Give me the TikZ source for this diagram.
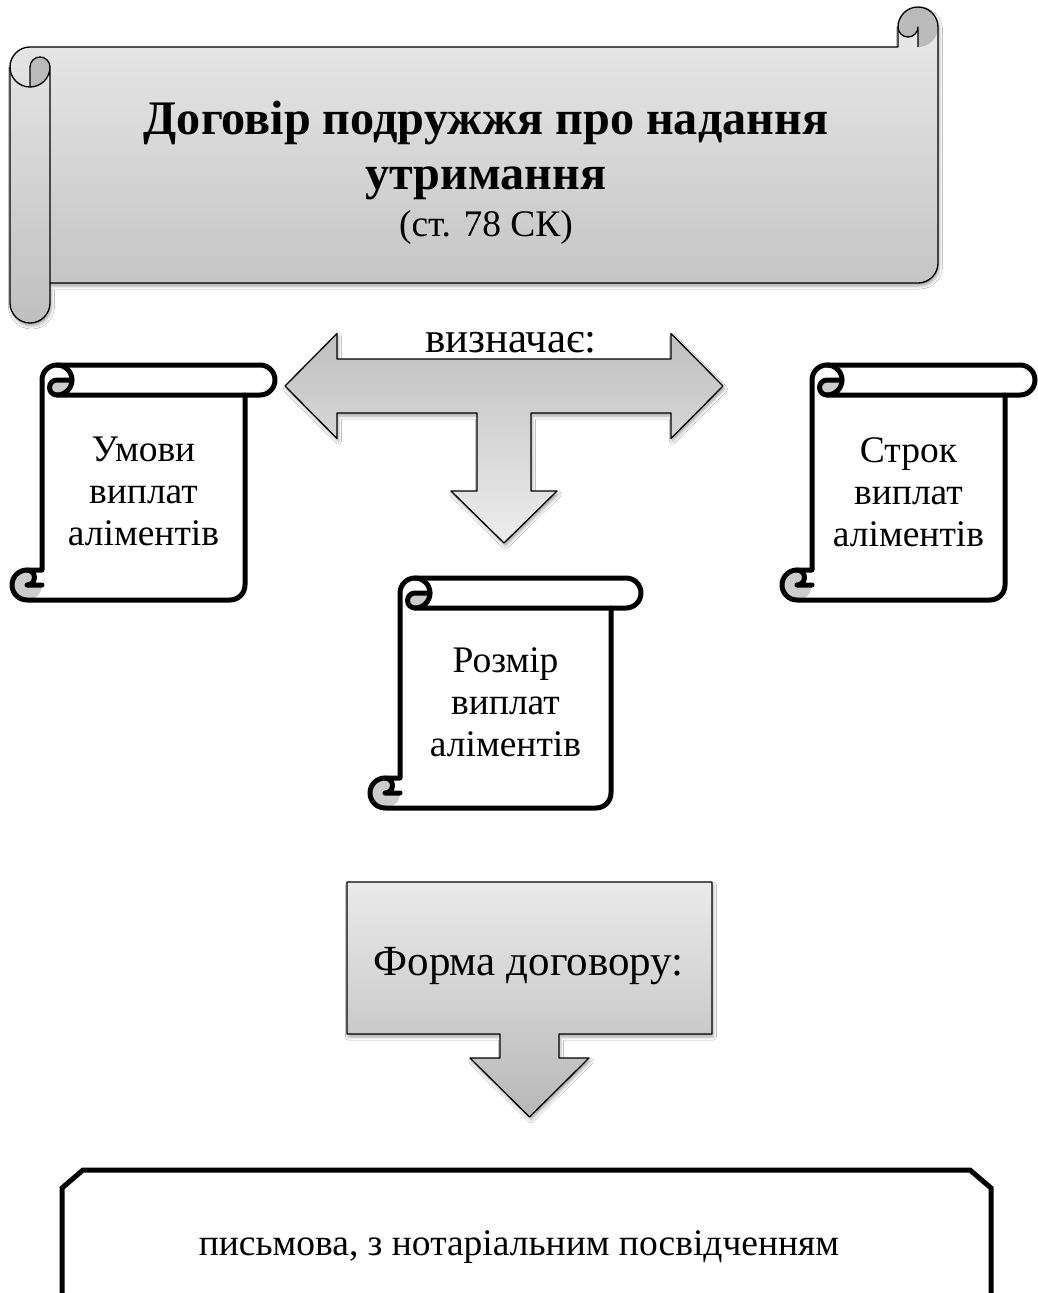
\documentclass[tikz,border=0pt]{standalone}
\usepackage{fontspec}
\setmainfont{Liberation Serif}
\usetikzlibrary{shadows.blur}
\tikzset{
  thinline/.style={line width=1.3pt, line join=round},
  thickline/.style={line width=5pt, line join=round, line cap=round},
  softshadow/.style={blur shadow={shadow xshift=1.5pt, shadow yshift=-3pt, shadow blur radius=3pt, shadow opacity=35}},
  curl/.style={fill=black!27},
  scrollcurl/.style={fill=black!20},
  bodytext/.style={inner sep=0pt, align=center, font=\fontsize{37.5}{42}\selectfont},
  bigtext/.style={inner sep=0pt, anchor=base, font=\fontsize{43}{48}\selectfont},
}
\newcommand{\vscroll}[4]{%
  \begin{scope}[shift={(#1,#2)}]
    \pgfmathsetmacro{\Wa}{#3-15}\pgfmathsetmacro{\Wb}{#3-30}\pgfmathsetmacro{\Wc}{#3-45}%
    \pgfmathsetmacro{\Ha}{#4-15}\pgfmathsetmacro{\Hb}{#4-30}%
    \def\outl{(45,0) arc[start angle=-90,end angle=-180,radius=15] -- (30,\Hb) -- (15,\Hb) arc[start angle=-90,end angle=-270,radius=15] -- (\Wc,#4) arc[start angle=90,end angle=0,radius=15] -- (\Wb,30) -- (\Wa,30) arc[start angle=90,end angle=-90,radius=15] -- cycle}%
    \fill[white] \outl;
    \fill[scrollcurl] (45,15) arc[start angle=-90,end angle=-270,radius=7.5] arc[start angle=90,end angle=0,radius=15] -- cycle;
    \fill[scrollcurl] (30,\Ha) arc[start angle=0,end angle=270,radius=15] arc[start angle=-90,end angle=90,radius=7.5] -- cycle;
    \draw[thickline] \outl;
    \draw[thickline] (45,0) arc[start angle=-90,end angle=90,radius=15] -- (\Wb,30);
    \draw[thickline] (60,15) -- (45,15) arc[start angle=-90,end angle=-270,radius=7.5];
    \draw[thickline] (30,\Ha) -- (15,\Ha) arc[start angle=90,end angle=-90,radius=7.5];
  \end{scope}}
\begin{document}
\begin{tikzpicture}[x=1pt,y=-1pt]
\useasboundingbox (0,0) rectangle (1038,1293);
\fill[white] (0,0) rectangle (1038,1293);

% ---- top horizontal scroll ----
\def\banner{(10,67) arc[start angle=180,end angle=270,radius=20] -- (898,47) -- (898,27) arc[start angle=180,end angle=360,radius=20] -- (938,263) arc[start angle=0,end angle=90,radius=20] -- (50,283) -- (50,303) arc[start angle=0,end angle=180,radius=20] -- cycle}
\path[softshadow, top color=black!8, bottom color=black!25] \banner;
\fill[curl] (30,67) arc[start angle=180,end angle=360,radius=10] arc[start angle=0,end angle=90,radius=20] -- cycle;
\fill[curl] (918,47) arc[start angle=90,end angle=-180,radius=20] arc[start angle=180,end angle=0,radius=10] -- cycle;
\draw[thinline] \banner;
\draw[thinline] (10,67) arc[start angle=180,end angle=0,radius=20] -- (50,283);
\draw[thinline] (30,87) -- (30,67) arc[start angle=180,end angle=360,radius=10];
\draw[thinline] (918,47) -- (918,27) arc[start angle=0,end angle=180,radius=10];
\node[anchor=north, align=center, inner sep=0pt, font=\fontsize{48.2}{55}\selectfont\bfseries] (title) at (486,101)
  {Договір подружжя про надання\\утримання\\[-8pt]{\mdseries\fontsize{37.5}{47}\selectfont (ст. 78 СК)}};

% ---- T arrow ----
\path[softshadow, thinline, draw, top color=black!25, bottom color=black!7]
  (285,386) -- (337,333.5) -- (337,359) -- (671,359) -- (671,333.5) -- (723,386) -- (671,438.5) -- (671,413)
  -- (531,413) -- (531,491) -- (557,491) -- (504,543) -- (451,491) -- (477,491) -- (477,413)
  -- (337,413) -- (337,438.5) -- cycle;
\coordinate (tarrow) at (504,386);
\node[bigtext] (vyzn) at (511,352) {визначає:};

% ---- vertical scrolls ----
\vscroll{12}{365}{263}{235}
\node[bodytext, anchor=north] (umovy) at (143.5,437) {Умови\\виплат\\аліментів};
\vscroll{782}{365}{253}{235}
\node[bodytext, anchor=north] (strok) at (908.5,437) {Строк\\виплат\\аліментів};
\vscroll{370}{578}{271}{230}
\node[bodytext, anchor=north] (rozmir) at (505.5,647) {Розмір\\виплат\\аліментів};

% ---- form callout ----
\path[softshadow, thinline, draw, top color=black!8, bottom color=black!28]
  (347,882) -- (712,882) -- (712,1034) -- (559,1034) -- (559,1058) -- (589,1058) -- (529.5,1117)
  -- (470,1058) -- (500,1058) -- (500,1034) -- (347,1034) -- cycle;
\node[bigtext] (forma) at (528.5,975) {Форма договору:};

% ---- bottom box ----
\draw[line width=5pt, line join=miter, fill=white] (62,1330) -- (62,1188) -- (83,1170) -- (970,1170) -- (991,1188) -- (991,1330) -- cycle;
\node[inner sep=0pt, anchor=base, font=\fontsize{37.5}{42}\selectfont] (pysm) at (519,1255) {письмова, з нотаріальним посвідченням};
\end{tikzpicture}
\end{document}
